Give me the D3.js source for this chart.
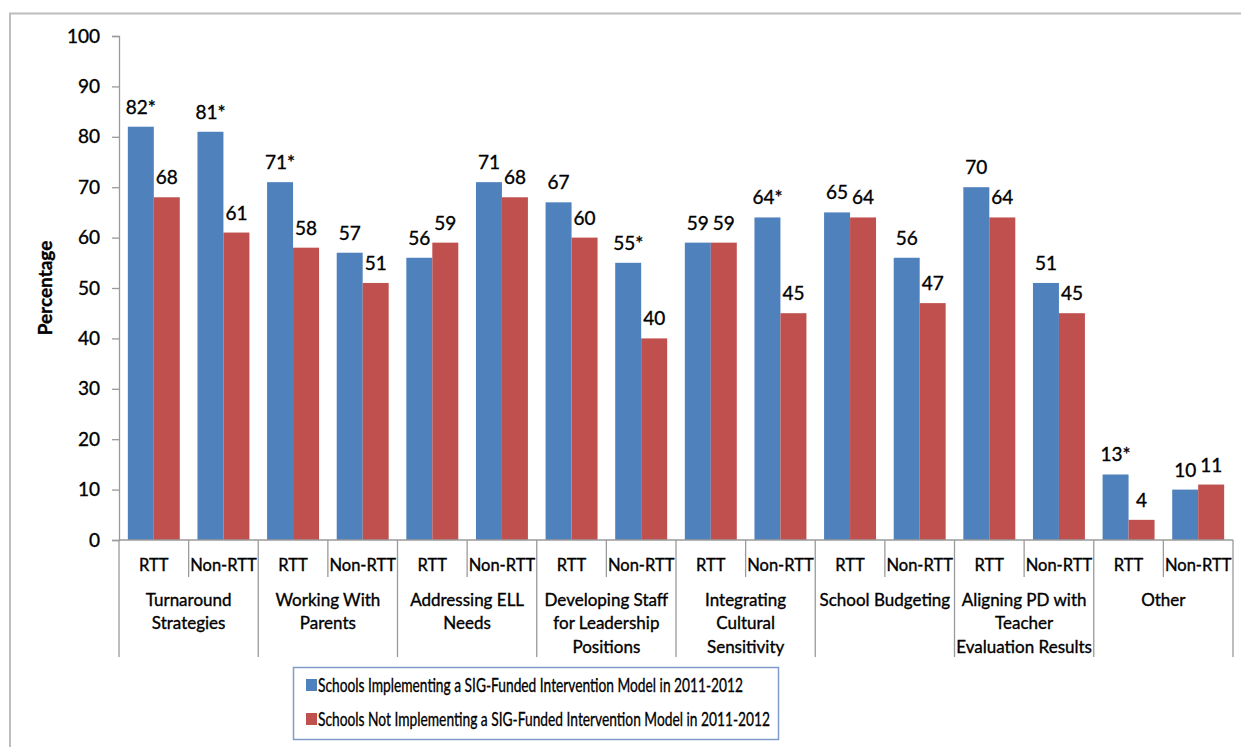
<!DOCTYPE html>
<html><head><meta charset="utf-8">
<script src="https://cdn.jsdelivr.net/npm/d3@7"></script>
<style>
html,body{margin:0;padding:0;background:#fff;}
svg{display:block;font-family:Lato,"Open Sans",sans-serif;}
svg text{stroke:#000;stroke-width:0.35px;fill:#000;}
</style></head>
<body><svg id="c" width="1241" height="747"></svg>
<script>
const categories = ["Turnaround Strategies","Working With Parents","Addressing ELL Needs","Developing Staff for Leadership Positions","Integrating Cultural Sensitivity","School Budgeting","Aligning PD with Teacher Evaluation Results","Other"];
const categoryLines = [["Turnaround","Strategies"],["Working With","Parents"],["Addressing ELL","Needs"],["Developing Staff","for Leadership","Positions"],["Integrating","Cultural","Sensitivity"],["School Budgeting"],["Aligning PD with","Teacher","Evaluation Results"],["Other"]];
const subgroups = ["RTT","Non-RTT"];
const seriesNames = ["Schools Implementing a SIG-Funded Intervention Model in 2011-2012","Schools Not Implementing a SIG-Funded Intervention Model in 2011-2012"];
const sigValues    = [82,81,71,57,56,71,67,55,59,64,65,56,70,51,13,10];
const nonSigValues = [68,61,58,51,59,68,60,40,59,45,64,47,64,45,4,11];
const sigStar      = [true,true,true,false,false,false,false,true,false,true,false,false,false,false,true,false];
const yTicks = [0,10,20,30,40,50,60,70,80,90,100];
const colors = ["#4F81BD","#C0504D"];

(function(){
const svg = d3.select("#c");
const mLeft = 119, mRight = 1233, mTop = 36, mBottom = 540;

// frame
svg.append("path").attr("d","M10,747V13.5H1241").attr("fill","none").attr("stroke","#bdbdbd").attr("stroke-width",2);

const slots = [];
categories.forEach((c,i)=>subgroups.forEach((s,j)=>slots.push({cat:i,sub:s,key:i+"-"+j,idx:i*2+j})));

const x = d3.scaleBand().domain(slots.map(d=>d.key)).range([mLeft,mRight]).padding(0);
const xi = d3.scaleBand().domain([0,1]).range([0,x.bandwidth()]).paddingOuter(0.34).paddingInner(0);
const y = d3.scaleLinear().domain([0,100]).range([mBottom,mTop]);

// y axis
const yAxis = svg.append("g").attr("transform",`translate(${mLeft},0)`)
  .call(d3.axisLeft(y).tickValues(yTicks).tickSize(7).tickPadding(12));
yAxis.select(".domain").attr("stroke","#9a9a9a").attr("stroke-width",1.3);
yAxis.selectAll(".tick line").attr("stroke","#9a9a9a").attr("stroke-width",1.3);
yAxis.selectAll(".tick text").attr("font-size",19).attr("fill","#000").attr("font-family","Lato, sans-serif");

svg.append("text").attr("transform","translate(52,288) rotate(-90)").attr("text-anchor","middle")
  .attr("font-size",19).attr("font-weight","bold").text("Percentage");

// bars
const data = slots.map(s=>({slot:s, vals:[sigValues[s.idx],nonSigValues[s.idx]]}));
const g = svg.append("g");
data.forEach(d=>{
  d.vals.forEach((v,k)=>{
    const bx = x(d.slot.key)+xi(k);
    g.append("rect").attr("x",bx).attr("y",y(v)).attr("width",xi.bandwidth()).attr("height",y(0)-y(v)).attr("fill",colors[k]);
    g.append("text").attr("x",bx+xi.bandwidth()/2).attr("y",y(v)-13).attr("text-anchor","middle")
      .attr("font-size",19).text(v+(k===0&&sigStar[d.slot.idx]?"*":""));
  });
});

// x axis line
svg.append("line").attr("x1",mLeft).attr("x2",mRight).attr("y1",mBottom).attr("y2",mBottom).attr("stroke","#9a9a9a").attr("stroke-width",1.3);

// dividers
for(let i=0;i<=slots.length;i++){
  const xx = i<slots.length ? x(slots[i].key) : mRight;
  const isCat = i%2===0;
  svg.append("line").attr("x1",xx).attr("x2",xx).attr("y1",mBottom).attr("y2",isCat?657:577)
    .attr("stroke","#9a9a9a").attr("stroke-width",1.3);
}
// sub labels
slots.forEach(s=>{
  svg.append("text").attr("x",x(s.key)+x.bandwidth()/2).attr("y",565).attr("dy","0.35em").attr("text-anchor","middle")
    .attr("font-size",16.5).text(s.sub);
});
// category labels
categoryLines.forEach((lines,i)=>{
  const cx = x(i+"-0")+x.bandwidth();
  lines.forEach((ln,j)=>{
    svg.append("text").attr("x",cx).attr("y",600+j*23.5).attr("dy","0.35em").attr("text-anchor","middle")
      .attr("font-size",17).text(ln);
  });
});

// legend
const lg = svg.append("g");
lg.append("rect").attr("x",293.5).attr("y",667.5).attr("width",485).attr("height",72).attr("fill","#fff").attr("stroke","#7f9ccc").attr("stroke-width",1.5);
seriesNames.forEach((n,k)=>{
  const ly = 685 + k*34;
  lg.append("rect").attr("x",306).attr("y",ly-6).attr("width",11).attr("height",12).attr("fill",colors[k]);
  lg.append("text").attr("x",318).attr("y",ly).attr("dy","0.35em").attr("font-size",20)
    .attr("textLength",k===0?425:452).attr("lengthAdjust","spacingAndGlyphs").text(n);
});
})();
</script></body></html>
